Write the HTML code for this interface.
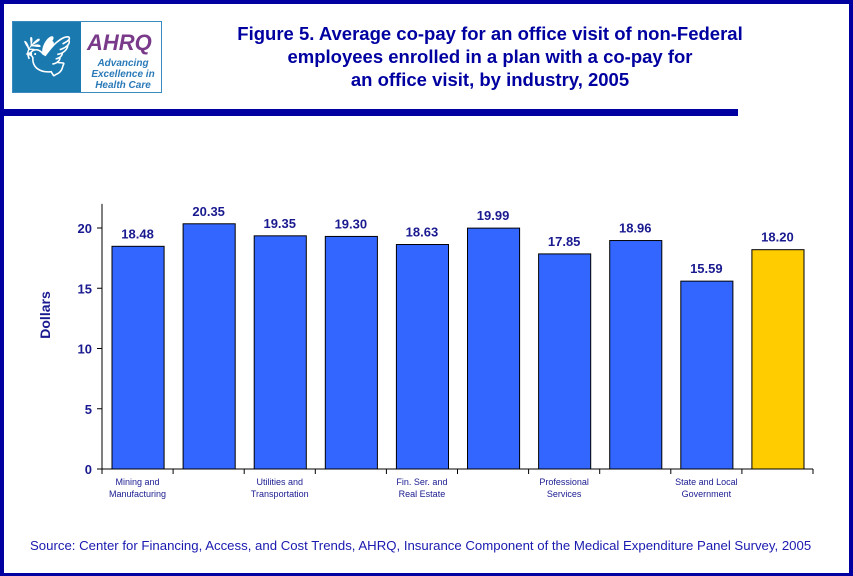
<!DOCTYPE html>
<html><head><meta charset="utf-8"><style>
body{margin:0;background:#fff}
#frame{position:relative;width:853px;height:576px;box-sizing:border-box;border:4px solid #0000a0;border-bottom-width:3px;font-family:"Liberation Sans",sans-serif;overflow:hidden}
</style></head><body>
<div id="frame">
<div style="position:absolute;left:8px;top:17px;width:148px;height:70px;border:1px solid #3a8ac0;background:#fff">
<div style="position:absolute;left:0;top:0;width:68px;height:70px;background:#1a7ab0;color:#fff;font-size:40px;text-align:center;line-height:70px">🕊</div>
<div style="position:absolute;left:74px;top:8px;font:italic bold 22px 'Liberation Sans';color:#7a3a8a">AHRQ</div>
<div style="position:absolute;left:70px;top:36px;width:80px;font:italic bold 10px 'Liberation Sans';color:#2a7ab8;text-align:center;line-height:11px">Advancing Excellence in Health Care</div>
</div>
<div style="position:absolute;left:186px;top:18px;width:600px;text-align:center;font-weight:bold;font-size:18.5px;line-height:23px;color:#0000a0">Figure 5. Average co-pay for an office visit of non-Federal<br>employees enrolled in a plan with a co-pay for<br>an office visit, by industry, 2005</div>
<div style="position:absolute;left:0;top:105px;width:734px;height:7px;background:#0000a0"></div>
<svg id="chart" width="853" height="576" style="position:absolute;left:-4px;top:-4px"></svg>
<div style="position:absolute;left:26px;top:534px;font-size:13.2px;color:#1a1ab0">Source: Center for Financing, Access, and Cost Trends, AHRQ, Insurance Component of the Medical Expenditure Panel Survey, 2005</div>
</div>
<script>
const categories=["Mining and|Manufacturing","","Utilities and|Transportation","","Fin. Ser. and|Real Estate","","Professional|Services","","State and Local|Government",""];
const values=[18.48,20.35,19.35,19.30,18.63,19.99,17.85,18.96,15.59,18.20];
const valueLabels=["18.48","20.35","19.35","19.30","18.63","19.99","17.85","18.96","15.59","18.20"];
const yTicks=[0,5,10,15,20];
const svg=document.getElementById('chart');const NS='http://www.w3.org/2000/svg';
const x0=102,x1=813,y0=469,pxPer=12.05;
const y=v=>y0-v*pxPer;const bw=(x1-x0)/values.length;
const xb=i=>x0+i*bw;
function mk(t,a,txt){const e=document.createElementNS(NS,t);for(const k in a)e.setAttribute(k,a[k]);if(txt!=null)e.textContent=txt;svg.appendChild(e);return e;}
values.forEach((v,i)=>{
const r=mk('rect',{x:xb(i)+10,y:y(v),width:bw-19,height:y0-y(v),fill:i==9?'#ffcc00':'#3366ff',stroke:'#000','stroke-width':1});

const t=mk('text',{x:xb(i)+bw/2,y:y(v)-8,'text-anchor':'middle','font-size':13,'font-weight':'bold',fill:'#1a1a90','font-family':'Liberation Sans'},valueLabels[i]);

const lines=categories[i].split('|');lines.forEach((l,j)=>{if(!l)return;
const c=mk('text',{x:xb(i)+bw/2,y:y0+16+j*12,'text-anchor':'middle','font-size':9,fill:'#1a1a90','font-family':'Liberation Sans'},l);
});
});
const ax=mk('line',{x1:x0,y1:y(22),x2:x0,y2:y0,stroke:'#000'});
const xa=mk('line',{x1:x0,y1:y0,x2:x1,y2:y0,stroke:'#000'});
for(let i=0;i<=values.length;i++)mk('line',{x1:xb(i),y1:y0,x2:xb(i),y2:y0+5,stroke:'#000'});
yTicks.forEach(v=>{mk('line',{x1:x0-5,y1:y(v),x2:x0,y2:y(v),stroke:'#000'});
const t=mk('text',{x:x0-10,y:y(v)+5,'text-anchor':'end','font-size':13,'font-weight':'bold',fill:'#1a1a90','font-family':'Liberation Sans'},v);
});
const yt=mk('text',{x:50,y:315,'text-anchor':'middle','font-size':14,'font-weight':'bold',fill:'#1a1a90','font-family':'Liberation Sans',transform:'rotate(-90 50 315)'},'Dollars');

</script>
</body></html>
